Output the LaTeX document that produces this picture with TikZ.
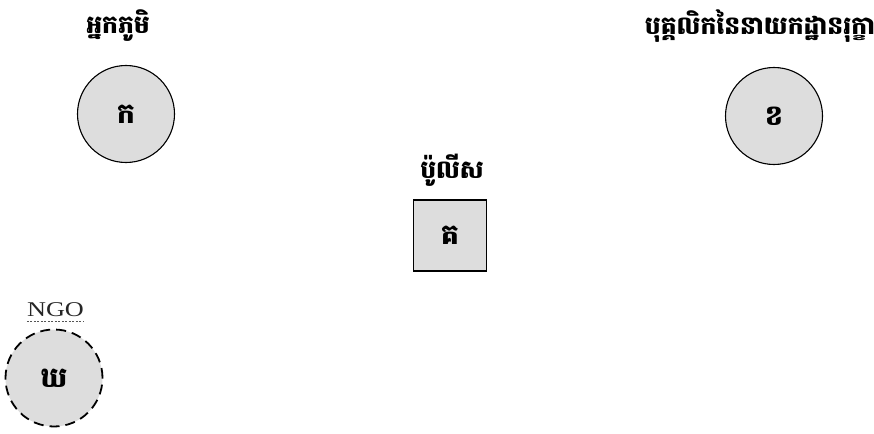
\documentclass[tikz,border=0pt]{standalone}
\usepackage{fontspec}
\setmainfont{Liberation Serif}
\newfontfamily\khfont[Script=Khmer]{Battambang}
\newfontfamily\ngofont[FakeStretch=1.25]{Liberation Serif}
\usetikzlibrary{positioning}
\definecolor{ink}     {HTML}{000000}
\definecolor{paleGray}{HTML}{DDDDDD}
\definecolor{dashGray}{HTML}{555555}

\begin{document}
\begin{tikzpicture}[
  x=1pt, y=1pt,
  actor/.style={circle, draw=ink, fill=paleGray, line width=1.1pt, minimum size=97pt,
                inner sep=0pt, font=\khfont\bfseries\fontsize{28}{32}\selectfont},
  ngoactor/.style={actor, dash pattern=on 10pt off 6pt, line width=1.8pt},
  post/.style={rectangle, draw=ink, fill=paleGray, line width=1.1pt, minimum width=73pt,
               minimum height=71pt, inner sep=0pt, font=\khfont\bfseries\fontsize{28}{32}\selectfont},
  head/.style={font=\khfont\bfseries\fontsize{25}{30}\selectfont, inner sep=0pt},
  eng/.style={font=\ngofont\fontsize{21}{24}\selectfont, text=ink!85, inner sep=0pt}
]
\useasboundingbox (0,0) rectangle (874,-433);

\node[head] (villagerLab) at (118,-26) {អ្នកភូមិ};
\node[actor] (villager) at (126,-114) {ក};

\node[head] (forestLab) at (760,-26) {បុគ្គលិកនៃនាយកដ្ឋានរុក្ខា};
\node[actor] (forest) at (774,-116) {ខ};

\node[head] (policeLab) at (452,-170) {ប៉ូលីស};
\node[post] (police) at (450,-235.5) {គ};

\node[eng] (ngoLab) at (55.5,-310) {NGO};
\draw[dashGray, line width=0.9pt, dash pattern=on 2pt off 1.5pt]
  ([yshift=-4pt]ngoLab.south west) -- ([yshift=-4pt]ngoLab.south east);
\node[ngoactor] (ngo) at (54,-378) {ឃ};
\end{tikzpicture}
\end{document}
